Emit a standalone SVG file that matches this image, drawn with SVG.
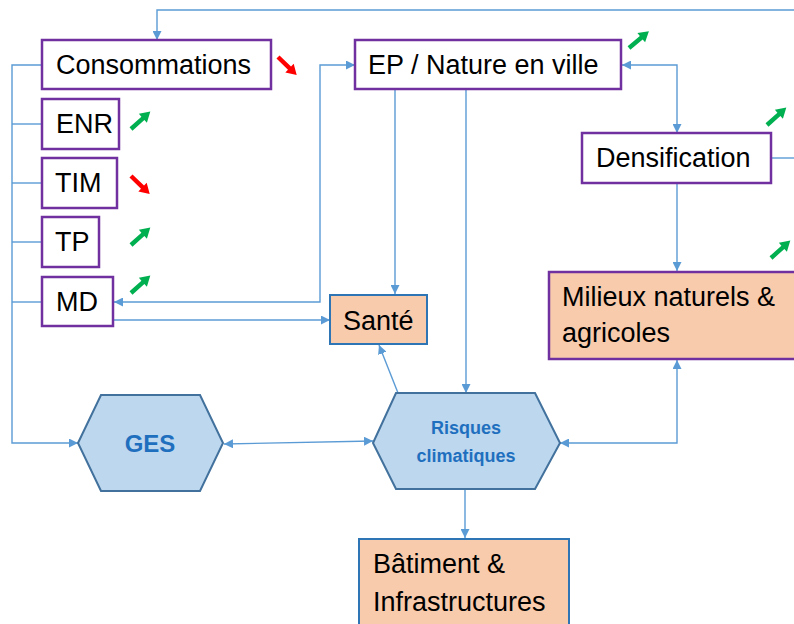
<svg xmlns="http://www.w3.org/2000/svg" width="794" height="624" viewBox="0 0 794 624">
<defs>
<style>
.box{fill:#ffffff;stroke:#7030a0;stroke-width:2.5}
.obox{fill:#f8cbad;stroke:#7030a0;stroke-width:2.5}
.bbox{fill:#f8cbad;stroke:#2e75b6;stroke-width:2}
.hex{fill:#bdd7ee;stroke:#41719c;stroke-width:2}
.t{font-family:"Liberation Sans",Arial,sans-serif;font-size:27px;fill:#000}
.h{font-family:"Liberation Sans",Arial,sans-serif;font-weight:bold;fill:#1f6fbf;text-anchor:middle}
.c{fill:none;stroke:#5b9bd5;stroke-width:1.4}
.up{fill:#00b050}
.dn{fill:#ff0000}
</style>
<marker id="ah" viewBox="0 0 10 10" refX="10" refY="5" markerWidth="9" markerHeight="9" markerUnits="userSpaceOnUse" orient="auto-start-reverse">
<path d="M0,0 L10,5 L0,10 Z" fill="#5b9bd5"/>
</marker>
<path id="arr" d="M0,-2.2 L16,-2.2 L16,-6 L26,0 L16,6 L16,2.2 L0,2.2 Z"/>
</defs>

<g id="connectors">
<polyline class="c" points="794,10 157,10 157,40" marker-end="url(#ah)"/>
<polyline class="c" points="42,65 12,65 12,443 78,443" marker-end="url(#ah)"/>
<line class="c" x1="12" y1="124" x2="42" y2="124"/>
<line class="c" x1="12" y1="183" x2="42" y2="183"/>
<line class="c" x1="12" y1="242" x2="42" y2="242"/>
<line class="c" x1="12" y1="302" x2="42" y2="302"/>
<polyline class="c" points="114,302 320,302 320,65 355,65" marker-start="url(#ah)" marker-end="url(#ah)"/>
<line class="c" x1="113" y1="320" x2="330" y2="320" marker-end="url(#ah)"/>
<line class="c" x1="395" y1="90" x2="395" y2="294" marker-end="url(#ah)"/>
<line class="c" x1="466" y1="90" x2="466" y2="393" marker-end="url(#ah)"/>
<polyline class="c" points="622,65 677,65 677,133" marker-start="url(#ah)" marker-end="url(#ah)"/>
<line class="c" x1="771" y1="158" x2="794" y2="158"/>
<line class="c" x1="677" y1="184" x2="677" y2="271" marker-end="url(#ah)"/>
<polyline class="c" points="560,443 677,443 677,360" marker-start="url(#ah)" marker-end="url(#ah)"/>
<line class="c" x1="224" y1="444" x2="373" y2="441" marker-start="url(#ah)" marker-end="url(#ah)"/>
<line class="c" x1="398" y1="393" x2="379" y2="345" marker-end="url(#ah)"/>
<line class="c" x1="465" y1="480" x2="465" y2="538" marker-end="url(#ah)"/>
</g>

<g id="consommations">
<rect class="box" x="42" y="40" width="229" height="49"/>
<text class="t" x="56" y="74">Consommations</text>
</g>
<g id="enr">
<rect class="box" x="42" y="99" width="77" height="50"/>
<text class="t" x="56" y="133">ENR</text>
</g>
<g id="tim">
<rect class="box" x="42" y="158" width="75" height="50"/>
<text class="t" x="55" y="192">TIM</text>
</g>
<g id="tp">
<rect class="box" x="42" y="217" width="57" height="50"/>
<text class="t" x="55" y="251">TP</text>
</g>
<g id="md">
<rect class="box" x="42" y="277" width="71" height="49"/>
<text class="t" x="56" y="311">MD</text>
</g>
<g id="ep">
<rect class="box" x="355" y="40" width="266" height="49"/>
<text class="t" x="368" y="74">EP / Nature en ville</text>
</g>
<g id="densification">
<rect class="box" x="582" y="133" width="189" height="50"/>
<text class="t" x="596" y="167">Densification</text>
</g>
<g id="milieux">
<rect class="obox" x="549" y="272" width="250" height="87"/>
<text class="t" x="562" y="306">Milieux naturels &amp;</text>
<text class="t" x="562" y="342">agricoles</text>
</g>
<g id="sante">
<rect class="bbox" x="330" y="295" width="97" height="49"/>
<text class="t" x="343" y="330">Santé</text>
</g>
<g id="batiment">
<rect class="bbox" x="359" y="539" width="210" height="90"/>
<text class="t" x="373" y="573">Bâtiment &amp;</text>
<text class="t" x="373" y="611">Infrastructures</text>
</g>
<g id="ges">
<polygon class="hex" points="78,443 101,395 200,395 223,443 200,491 101,491"/>
<text class="h" x="150" y="452" font-size="24">GES</text>
</g>
<g id="risques">
<polygon class="hex" points="373,443 396,393 535,393 560,443 535,489 396,489"/>
<text class="h" x="466" y="434" font-size="18">Risques</text>
<text class="h" x="466" y="462" font-size="18">climatiques</text>
</g>

<g id="trends">
<use href="#arr" class="dn" transform="translate(278,57) rotate(44)"/>
<use href="#arr" class="up" transform="translate(131,129) rotate(-42)"/>
<use href="#arr" class="dn" transform="translate(131,176) rotate(44)"/>
<use href="#arr" class="up" transform="translate(131,245) rotate(-42)"/>
<use href="#arr" class="up" transform="translate(131,293) rotate(-42)"/>
<use href="#arr" class="up" transform="translate(629,48) rotate(-40)"/>
<use href="#arr" class="up" transform="translate(767,125) rotate(-42)"/>
<use href="#arr" class="up" transform="translate(771,258) rotate(-42)"/>
</g>
</svg>
